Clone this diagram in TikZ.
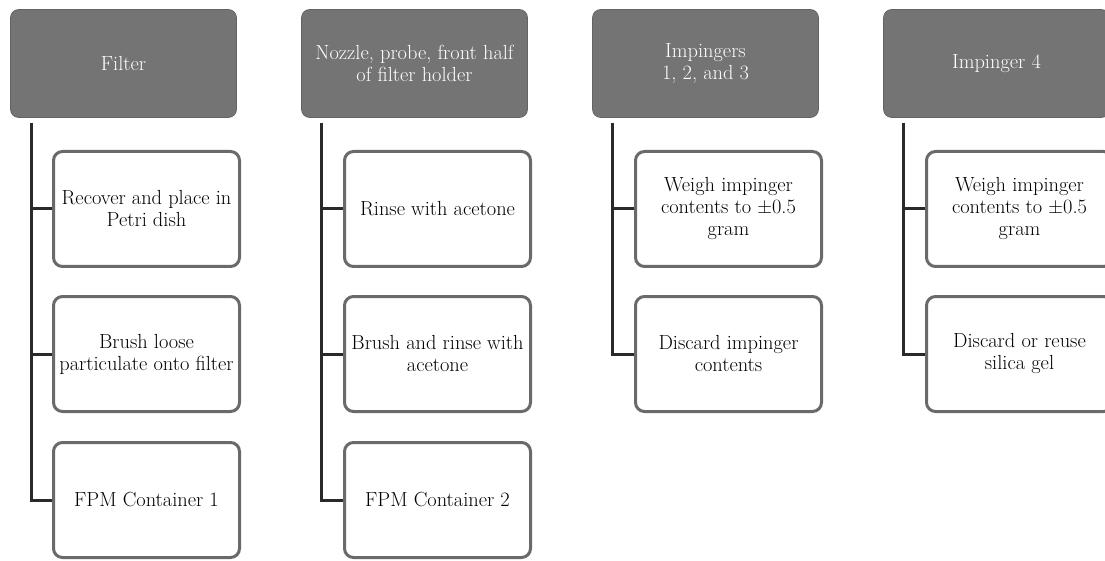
\documentclass[tikz,border=0pt]{standalone}
\usepackage{fontspec}
\definecolor{hdrfill}{HTML}{747474}
\definecolor{boxline}{HTML}{6A6A6A}
\definecolor{connline}{HTML}{2A2A2A}
\tikzset{
  hdr/.style={draw=hdrfill!85!black, line width=0.6pt, fill=hdrfill, rounded corners=8pt,
    minimum width=226pt, minimum height=108pt, inner sep=0pt, align=center,
    text=white, font=\rmfamily\fontsize{20.4}{22}\selectfont},
  child/.style={draw=boxline, line width=3pt, fill=white, rounded corners=9pt,
    minimum width=186pt, minimum height=115pt, inner sep=0pt, align=center,
    text=black, font=\rmfamily\fontsize{20.4}{22}\selectfont},
  conn/.style={draw=connline, line width=3pt}
}
\begin{document}
\begin{tikzpicture}[x=1pt,y=-1pt]
\useasboundingbox (0,0) rectangle (1105,561);
\clip (0,0) rectangle (1105,561);
% column 1
\node[hdr] (h1) at (123.5,63.5) {Filter};
\node[child] (c11) at (146.5,209) {Recover and place in\\Petri dish};
\node[child] (c12) at (146.5,354) {Brush loose\\particulate onto filter};
\node[child] (c13) at (146.5,500) {FPM Container 1};
\coordinate (t1) at (31.5,123);
% column 2
\node[hdr] (h2) at (414.5,63.5) {Nozzle, probe, front half\\of filter holder};
\node[child] (c21) at (437.5,209) {Rinse with acetone};
\node[child] (c22) at (437.5,354) {Brush and rinse with\\acetone};
\node[child] (c23) at (437.5,500) {FPM Container 2};
\coordinate (t2) at (321.5,123);
% column 3
\node[hdr] (h3) at (705.5,63.5) {Impingers\\1, 2, and 3};
\node[child] (c31) at (728.5,209) {Weigh impinger\\contents to ±0.5\\gram};
\node[child] (c32) at (728.5,354) {Discard impinger\\contents};
\coordinate (t3) at (612.5,123);
% column 4
\node[hdr] (h4) at (996.5,63.5) {Impinger 4};
\node[child] (c41) at (1019.5,209) {Weigh impinger\\contents to ±0.5\\gram};
\node[child] (c42) at (1019.5,354) {Discard or reuse\\silica gel};
\coordinate (t4) at (903.5,123);
% connectors
\draw[conn] (t1) |- (c13.west);
\draw[conn] (t1 |- c11.west) -- (c11.west);
\draw[conn] (t1 |- c12.west) -- (c12.west);
\draw[conn] (t2) |- (c23.west);
\draw[conn] (t2 |- c21.west) -- (c21.west);
\draw[conn] (t2 |- c22.west) -- (c22.west);
\draw[conn] (t3) |- (c32.west);
\draw[conn] (t3 |- c31.west) -- (c31.west);
\draw[conn] (t4) |- (c42.west);
\draw[conn] (t4 |- c41.west) -- (c41.west);
\end{tikzpicture}
\end{document}
